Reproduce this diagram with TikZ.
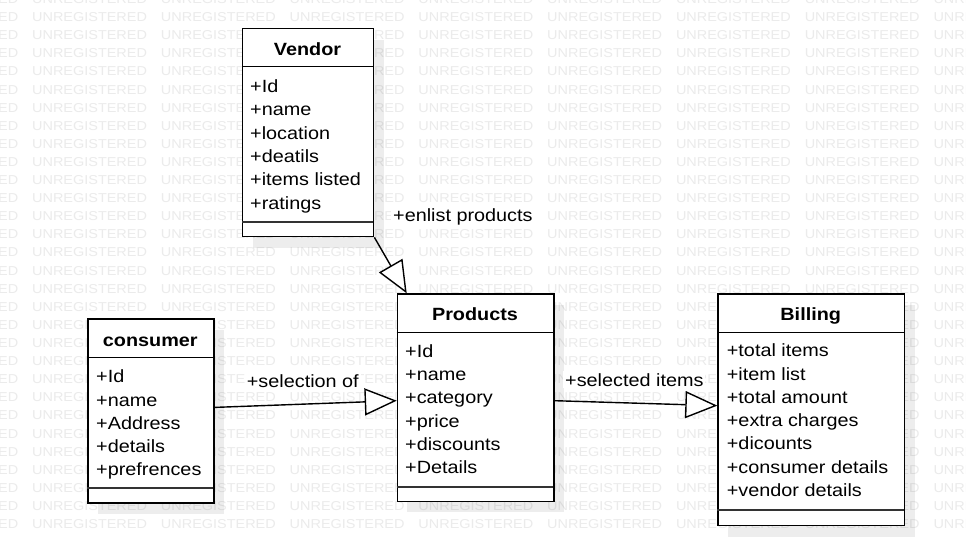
\documentclass[tikz,border=0pt]{standalone}
\usepackage{fontspec}
\setmainfont[FakeStretch=1.12]{Liberation Sans}
\usetikzlibrary{arrows.meta, calc, shadows}

\tikzset{
  umlbox/.style={draw, fill=white, line width=1.4pt, inner sep=0pt, anchor=north west,
    drop shadow={shadow xshift=10pt, shadow yshift=-11pt, fill=black, opacity=0.07}},
  umltitle/.style={anchor=base, inner sep=0pt, font=\fontsize{17.7}{20}\selectfont\bfseries},
  umlattr/.style={anchor=base west, inner sep=0pt, font=\fontsize{17.7}{20}\selectfont},
  umllabel/.style={anchor=base west, inner sep=2pt, fill=white, font=\fontsize{17.7}{20}\selectfont},
  umlsep/.style={line width=1.4pt},
  umlend/.style={line width=2.2pt, black!80},
  wmark/.style={anchor=base west, inner sep=0pt, text=black!8, font=\fontsize{12.9}{15}\selectfont},
  assoc/.style={line width=1.4pt, -{Triangle[length=32pt, width=27pt, fill=white]}},
}

\begin{document}
\begin{tikzpicture}[x=1pt, y=-1pt]
\useasboundingbox (0,0) rectangle (966,537);
\clip (0,0) rectangle (966,537);
\fill[white] (0,0) rectangle (966,537);

% watermark
\foreach \r in {-1,...,29}
  \foreach \c in {-1,...,7}
    \path (32+128.76*\c, 21.7+18.1*\r) node[wmark] (wm-\r-\c) {UNREGISTERED};

% classes
\node[umlbox, minimum width=131pt, minimum height=208pt] (vendor) at (242,28) {};
\node[umlbox, minimum width=126pt, minimum height=184pt] (consumer) at (87.3,318.3) {};
\node[umlbox, minimum width=156.6pt, minimum height=207.4pt] (products) at (396.7,293.3) {};
\node[umlbox, minimum width=186.7pt, minimum height=231.7pt] (billing) at (717.3,293.3) {};

\draw[umlsep] (242,66.7) -- (373,66.7);
\draw[umlend] (242,221.7) -- (373,221.7);
\draw[umlsep] (87.3,357.3) -- (213.3,357.3);
\draw[umlend] (87.3,488.3) -- (213.3,488.3);
\draw[umlsep] (396.7,332.3) -- (553.3,332.3);
\draw[umlend] (396.7,487.3) -- (553.3,487.3);
\draw[umlsep] (717.3,332.3) -- (904,332.3);
\draw[umlend] (717.3,510) -- (904,510);

\path (307.5,56) node[umltitle] (vendor-t) {Vendor};
\path (150.3,346.7) node[umltitle] (consumer-t) {consumer};
\path (475,320) node[umltitle] (products-t) {Products};
\path (810.7,320) node[umltitle] (billing-t) {Billing};

\foreach \a [count=\i from 0] in {+Id,+name,+location,+deatils,+items listed,+ratings}
  \path (250, 92.7+23.3*\i) node[umlattr] (vendor-a\i) {\a};
\foreach \a [count=\i from 0] in {+Id,+name,+Address,+details,+prefrences}
  \path (96, 382.7+23.3*\i) node[umlattr] (consumer-a\i) {\a};
\foreach \a [count=\i from 0] in {+Id,+name,+category,+price,+discounts,+Details}
  \path (405, 357.3+23.3*\i) node[umlattr] (products-a\i) {\a};
\foreach \a [count=\i from 0] in {+total items,+item list,+total amount,+extra charges,+dicounts,+consumer details,+vendor details}
  \path (726.7, 356.7+23.3*\i) node[umlattr] (billing-a\i) {\a};

% associations
\draw[assoc] (vendor.south east) -- ([xshift=10pt]products.north west);
\draw[assoc] ([yshift=3.6pt]consumer.east) -- ([yshift=-3pt]products.west);
\draw[assoc] ([yshift=-3pt]products.east) -- ([yshift=4.2pt]billing.west);

\path (391,221.5) node[umllabel] (enlist) {+enlist products};
\path (244.7,387.3) node[umllabel] (selection) {+selection of};
\path (563,386) node[umllabel] (selected) {+selected items};
\end{tikzpicture}
\end{document}
